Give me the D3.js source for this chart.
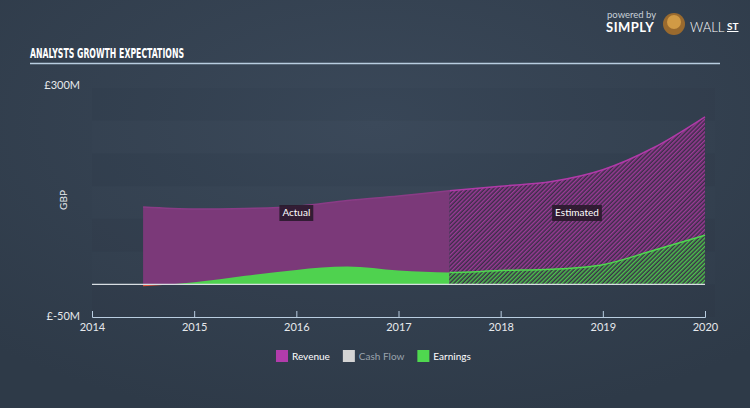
<!DOCTYPE html>
<html lang="en">
<head>
    <meta charset="UTF-8">
    <title>Analysts Growth Expectations</title>
    <script src="https://d3js.org/d3.v7.min.js"></script>
    <style>
        body {
            margin: 0;
            background: #344151;
            font-family: Lato, "Open Sans", sans-serif;
        }
        svg { display: block; }
    </style>
</head>
<body>
    <div id="chart"></div>

    <script>
        // data (GBP millions)
        const years = [2014.5, 2015, 2015.5, 2016, 2016.5, 2017, 2017.5, 2018, 2018.5, 2019, 2019.5, 2020];
        const revenue = [118, 115, 116, 119, 128, 135, 143, 150, 157, 175, 209, 256];
        const earnings = [-3, 3, 13, 22, 27, 21, 18, 21, 23, 30, 52, 75];
        const splitYear = 2017.5;   // actual / estimated boundary
        const xTicks = [2014, 2015, 2016, 2017, 2018, 2019, 2020];
        const yTickLabels = ["£300M", "£-50M"];
        const legendItems = [
            { name: "Revenue", color: "#b23cab", text: "#ffffff" },
            { name: "Cash Flow", color: "#d4d4d4", text: "#9aa3ad" },
            { name: "Earnings", color: "#4fd84f", text: "#ffffff" }
        ];

        const W = 750, H = 408;
        const svg = d3.select("#chart").append("svg")
            .attr("width", W).attr("height", H);

        const defs = svg.append("defs");

        // background gradient
        const bg = defs.append("radialGradient").attr("id", "bg")
            .attr("cx", "50%").attr("cy", "30%").attr("r", "75%");
        bg.append("stop").attr("offset", "0%").attr("stop-color", "#3a4859");
        bg.append("stop").attr("offset", "100%").attr("stop-color", "#2e3a48");
        svg.append("rect").attr("width", W).attr("height", H).attr("fill", "url(#bg)");

        // hatch patterns for estimates
        function hatch(id, line) {
            const p = defs.append("pattern").attr("id", id)
                .attr("patternUnits", "userSpaceOnUse")
                .attr("width", 3).attr("height", 3)
                .attr("patternTransform", "rotate(45)");
            p.append("rect").attr("width", 3).attr("height", 3).attr("fill", "#3a2e48");
            p.append("rect").attr("width", 1.5).attr("height", 3).attr("fill", line);
        }
        hatch("hatchRev", "#9b3a96");
        hatch("hatchEarn", "#4cc24c");

        const x = d3.scaleLinear().domain([2014, 2020]).range([92, 705]);
        const y = d3.scaleLinear().domain([-50, 300]).range([317, 88]);

        // plot background bands
        d3.range(-50, 300, 50).forEach((v, i) => {
            svg.append("rect")
                .attr("x", x(2014)).attr("width", x(2020) - x(2014) + 10)
                .attr("y", y(v + 50)).attr("height", y(v) - y(v + 50))
                .attr("fill", i % 2 ? "#ffffff" : "#000000")
                .attr("opacity", i % 2 ? 0.006 : 0.018);
        });

        // title
        svg.append("text")
            .attr("x", 30).attr("y", 58)
            .attr("fill", "#ffffff")
            .attr("font-family", "'Liberation Sans Narrow', 'DejaVu Sans Condensed', sans-serif")
            .attr("font-weight", "bold")
            .attr("font-size", 14)
            .attr("textLength", 154).attr("lengthAdjust", "spacingAndGlyphs")
            .text("ANALYSTS GROWTH EXPECTATIONS");
        svg.append("line")
            .attr("x1", 30).attr("x2", 720).attr("y1", 63.5).attr("y2", 63.5)
            .attr("stroke", "#b9cde0").attr("stroke-width", 1.5);

        // logo
        svg.append("text").attr("x", 607).attr("y", 18)
            .attr("fill", "#c8d0d8").attr("font-size", 9.5).text("powered by");
        svg.append("text").attr("x", 606).attr("y", 32)
            .attr("fill", "#ffffff").attr("font-size", 13).attr("font-weight", "bold")
            .attr("letter-spacing", 0.5).text("SIMPLY");
        svg.append("circle").attr("cx", 674).attr("cy", 24).attr("r", 11).attr("fill", "#9a6a2e");
        svg.append("circle").attr("cx", 674).attr("cy", 22).attr("r", 7).attr("fill", "#d19a45");
        svg.append("text").attr("x", 690).attr("y", 32)
            .attr("fill", "#ffffff").attr("font-size", 13).attr("font-weight", 300)
            .text("WALL");
        svg.append("text").attr("x", 727).attr("y", 30)
            .attr("fill", "#ffffff").attr("font-size", 10).attr("font-weight", "bold")
            .attr("text-decoration", "underline").text("ST");

        // y labels
        svg.append("text").attr("x", 80).attr("y", 89)
            .attr("text-anchor", "end").attr("fill", "#e6e9ec").attr("font-size", 11)
            .text(yTickLabels[0]);
        svg.append("text").attr("x", 80).attr("y", 320)
            .attr("text-anchor", "end").attr("fill", "#e6e9ec").attr("font-size", 11)
            .text(yTickLabels[1]);
        svg.append("text")
            .attr("transform", "translate(67,200) rotate(-90)")
            .attr("text-anchor", "middle").attr("fill", "#e6e9ec").attr("font-size", 10)
            .text("GBP");

        // series
        const pts = years.map((yr, i) => ({ yr, rev: revenue[i], earn: earnings[i] }));

        const revArea = d3.area().x(d => x(d.yr)).y0(y(0)).y1(d => y(d.rev)).curve(d3.curveMonotoneX);
        const revLine = d3.line().x(d => x(d.yr)).y(d => y(d.rev)).curve(d3.curveMonotoneX);
        const earnArea = d3.area().x(d => x(d.yr)).y0(y(0)).y1(d => y(d.earn)).curve(d3.curveMonotoneX);
        const earnLine = d3.line().x(d => x(d.yr)).y(d => y(d.earn)).curve(d3.curveMonotoneX);

        // clips: actual / estimated, above / below zero
        const clip = (id, x0, x1, y0, y1) => defs.append("clipPath").attr("id", id)
            .append("rect").attr("x", x0).attr("y", y0).attr("width", x1 - x0).attr("height", y1 - y0);
        clip("actual", 0, x(splitYear), 0, H);
        clip("est", x(splitYear), W, 0, H);
        clip("neg", 0, W, y(0), H);
        clip("pos", 0, W, 0, y(0));

        // actual
        const act = svg.append("g").attr("clip-path", "url(#actual)");
        act.append("path").datum(pts).attr("d", revArea).attr("fill", "#7b3979");
        act.append("path").datum(pts).attr("d", revLine).attr("fill", "none")
            .attr("stroke", "#8a3c86").attr("stroke-width", 1.5);
        const actPos = act.append("g").attr("clip-path", "url(#pos)");
        actPos.append("path").datum(pts).attr("d", earnArea).attr("fill", "#4fd24f");
        const actNeg = act.append("g").attr("clip-path", "url(#neg)");
        actNeg.append("path").datum(pts).attr("d", earnArea).attr("fill", "#e0573f");

        // estimated
        const est = svg.append("g").attr("clip-path", "url(#est)");
        est.append("path").datum(pts).attr("d", revArea).attr("fill", "url(#hatchRev)");
        est.append("path").datum(pts).attr("d", revLine).attr("fill", "none")
            .attr("stroke", "#b03aa8").attr("stroke-width", 1.5);
        est.append("path").datum(pts).attr("d", earnArea).attr("fill", "url(#hatchEarn)");
        est.append("path").datum(pts).attr("d", earnLine).attr("fill", "none")
            .attr("stroke", "#4fd84f").attr("stroke-width", 1.5);

        // zero baseline
        svg.append("line")
            .attr("x1", x(2014)).attr("x2", x(2020)).attr("y1", y(0)).attr("y2", y(0))
            .attr("stroke", "#d8dde2").attr("stroke-width", 1.2);

        // Actual / Estimated tags
        function tag(label, cx) {
            const t = svg.append("text").attr("x", cx).attr("y", 216)
                .attr("text-anchor", "middle").attr("fill", "#ffffff").attr("font-size", 10)
                .text(label);
            const b = t.node().getBBox();
            svg.insert("rect", () => t.node())
                .attr("x", b.x - 3).attr("y", 205).attr("width", b.width + 6).attr("height", 16)
                .attr("fill", "#2a1a2c").attr("opacity", 0.9);
        }
        tag("Actual", x(2016));
        tag("Estimated", 577);

        // x axis
        const xAxis = svg.append("g").attr("transform", `translate(0,${y(-50)})`)
            .call(d3.axisTop(x).tickValues(xTicks).tickFormat(d3.format("d")).tickSize(6));
        xAxis.select(".domain").attr("stroke", "#b9cde0");
        xAxis.selectAll(".tick line").attr("stroke", "#b9cde0");
        xAxis.selectAll(".tick text")
            .attr("y", 14).attr("fill", "#e6e9ec").attr("font-size", 11)
            .attr("font-family", "Lato, sans-serif");

        // legend
        const legend = svg.append("g").attr("transform", "translate(276,350)");
        let lx = 0;
        legendItems.forEach(item => {
            legend.append("rect").attr("x", lx).attr("y", 0).attr("width", 12).attr("height", 12)
                .attr("fill", item.color);
            const t = legend.append("text").attr("x", lx + 16).attr("y", 10)
                .attr("fill", item.text).attr("font-size", 10).text(item.name);
            lx += 16 + t.node().getComputedTextLength() + 13;
        });
    </script>
</body>
</html>
